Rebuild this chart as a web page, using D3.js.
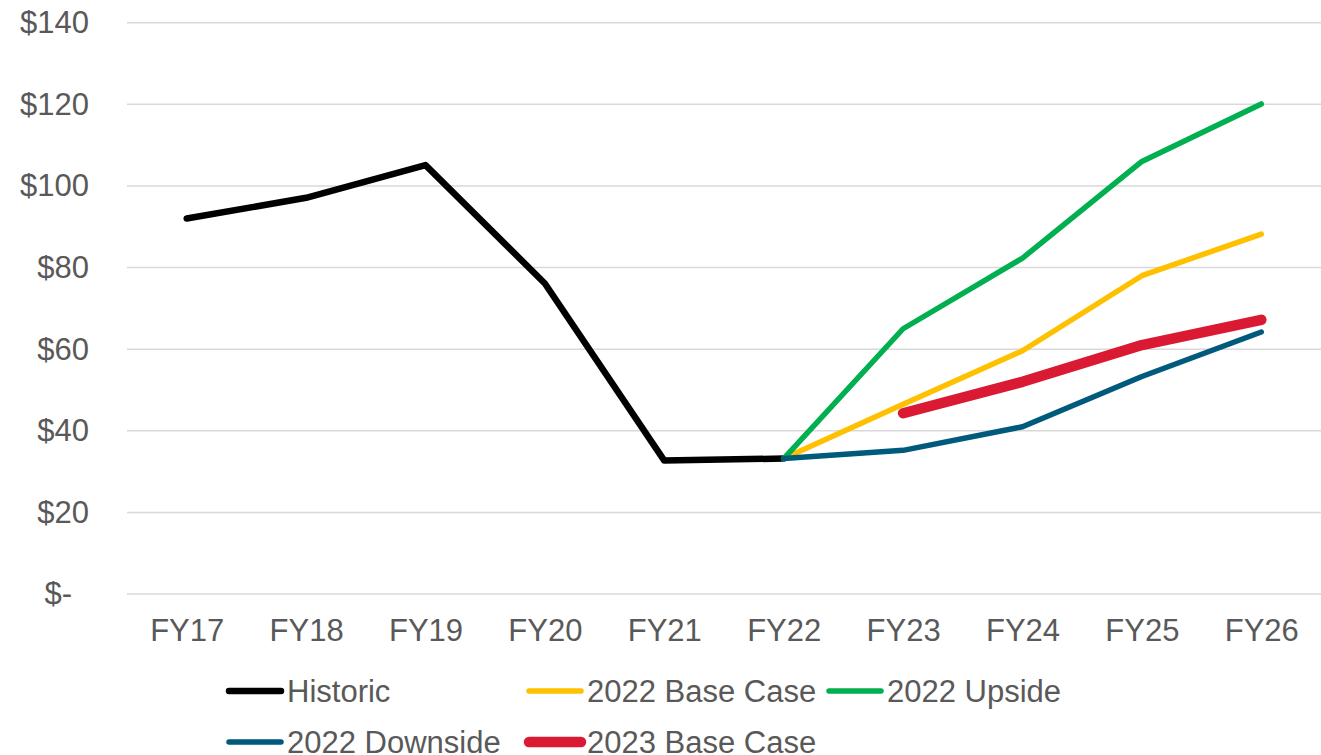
<!DOCTYPE html>
<html>
<head>
<meta charset="utf-8">
<script src="https://cdn.jsdelivr.net/npm/d3@7"></script>
<style>
  body { margin: 0; background: #fff; }
  text { font-family: "Liberation Sans", Arial, sans-serif; fill: #595959; }
</style>
</head>
<body>
<div id="chart"></div>
<script>
// fiscal years on the x axis
var years = ["FY17", "FY18", "FY19", "FY20", "FY21", "FY22", "FY23", "FY24", "FY25", "FY26"];
var yTicks = [0, 20, 40, 60, 80, 100, 120, 140];

// series, null where a series has no value
var historic   = [92, 97.1, 105.1, 76.1, 32.7, 33.2, null, null, null, null];
var base2022   = [null, null, null, null, null, 33.2, 46.5, 59.6, 78, 88.2];
var upside2022 = [null, null, null, null, null, 33.2, 65, 82.3, 106, 120.1];
var down2022   = [null, null, null, null, null, 33.2, 35.2, 41, 53.3, 64.2];
var base2023   = [null, null, null, null, null, null, 44.3, 52, 61, 67.2];

var seriesNames = ["Historic", "2022 Base Case", "2022 Upside", "2022 Downside", "2023 Base Case"];
var seriesData = [historic, base2022, upside2022, down2022, base2023];
var seriesColors = ["#000000", "#FFC000", "#00B050", "#005A7C", "#DA1A32"];
var seriesWidths = [6.5, 5.5, 5.5, 5.5, 10.5];

var width = 1321, height = 755;
var plotLeft = 127, plotRight = 1321, plotTop = 22.7, plotBottom = 594;

var svg = d3.select("#chart").append("svg")
    .attr("width", width)
    .attr("height", height);

var x = d3.scalePoint().domain(years).range([plotLeft, plotRight]).padding(0.5);
var y = d3.scaleLinear().domain([0, 140]).range([plotBottom, plotTop]);

// gridlines
svg.append("g")
    .selectAll("line")
    .data(yTicks)
    .enter().append("line")
    .attr("x1", plotLeft)
    .attr("x2", plotRight)
    .attr("y1", function(d){ return y(d); })
    .attr("y2", function(d){ return y(d); })
    .attr("stroke", "#D9D9D9")
    .attr("stroke-width", 1.5);

// y labels
var yAxis = svg.append("g")
    .attr("transform", "translate(" + plotLeft + ",0)")
    .call(d3.axisLeft(y).tickValues(yTicks).tickSize(0).tickPadding(38)
        .tickFormat(function(d){ return d === 0 ? "$-" : "$" + d; }));
yAxis.select(".domain").remove();
yAxis.selectAll("text")
    .style("font-size", "31px")
    .attr("dx", function(d){ return d === 0 ? -17 : 0; });

// x labels
var xAxis = svg.append("g")
    .attr("transform", "translate(0," + plotBottom + ")")
    .call(d3.axisBottom(x).tickSize(0).tickPadding(25));
xAxis.select(".domain").remove();
xAxis.selectAll("text").style("font-size", "31px");

var line = d3.line()
    .defined(function(d){ return d != null; })
    .x(function(d, i){ return x(years[i]); })
    .y(function(d){ return y(d); });

for (var i = 0; i < seriesData.length; i++) {
    svg.append("path")
        .datum(seriesData[i])
        .attr("d", line)
        .attr("fill", "none")
        .attr("stroke", seriesColors[i])
        .attr("stroke-width", seriesWidths[i])
        .attr("stroke-linecap", "round")
        .attr("stroke-linejoin", "round");
}

// legend, three per row
var legendX = [229, 529, 829];
var legendY = [691, 742];
for (var i = 0; i < seriesNames.length; i++) {
    var lx = legendX[i % 3], ly = legendY[Math.floor(i / 3)];
    var g = svg.append("g").attr("transform", "translate(" + lx + "," + ly + ")");
    g.append("line")
        .attr("x1", 0).attr("x2", 52)
        .attr("y1", 0).attr("y2", 0)
        .attr("stroke", seriesColors[i])
        .attr("stroke-width", seriesWidths[i])
        .attr("stroke-linecap", "round");
    g.append("text")
        .attr("x", 58)
        .attr("y", 11)
        .style("font-size", "31px")
        .text(seriesNames[i]);
}
</script>
</body>
</html>
